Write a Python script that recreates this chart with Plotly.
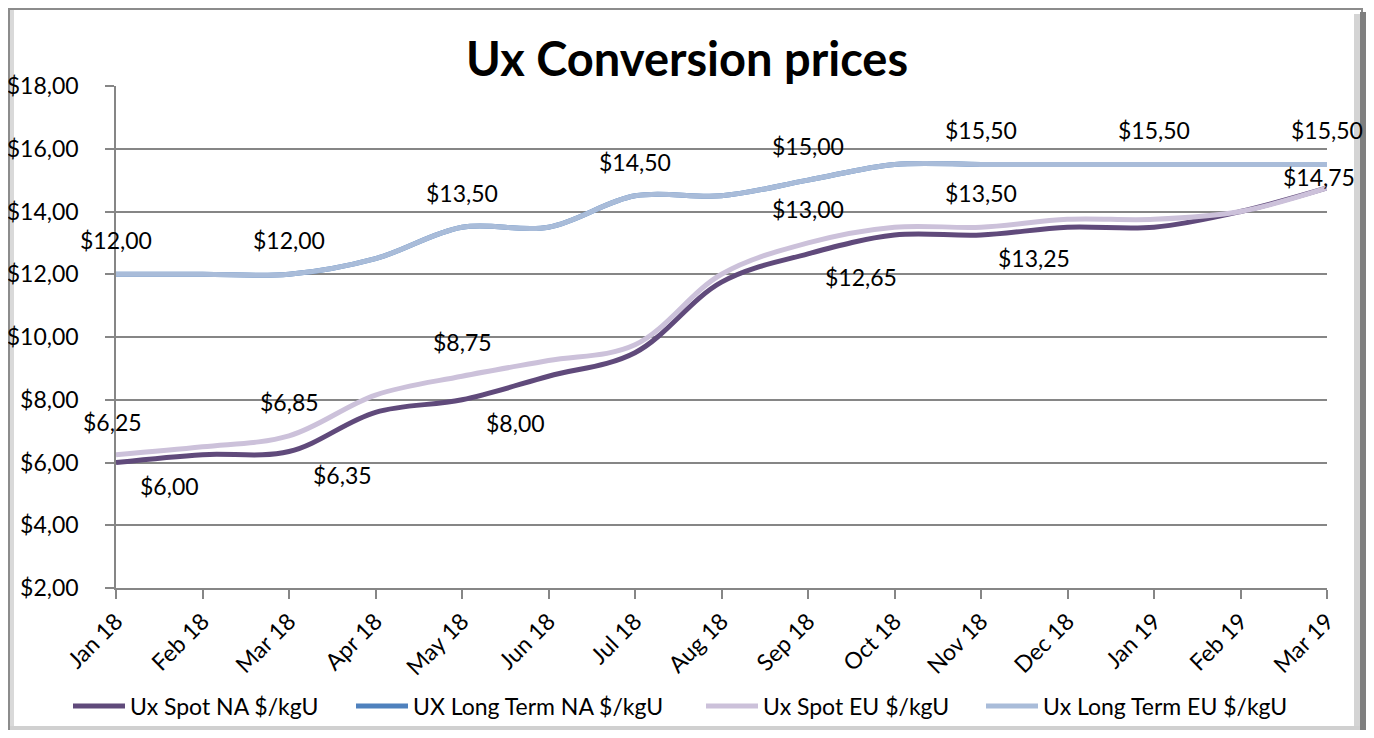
import plotly.graph_objects as go

months = ["Jan 18", "Feb 18", "Mar 18", "Apr 18", "May 18", "Jun 18", "Jul 18", "Aug 18",
          "Sep 18", "Oct 18", "Nov 18", "Dec 18", "Jan 19", "Feb 19", "Mar 19"]

spot_na = [6.00, 6.25, 6.35, 7.60, 8.00, 8.75, 9.50, 11.75, 12.65, 13.25, 13.25, 13.50, 13.50, 14.00, 14.75]
lt_na = [12.00, 12.00, 12.00, 12.50, 13.50, 13.50, 14.50, 14.50, 15.00, 15.50, 15.50, 15.50, 15.50, 15.50, 15.50]
spot_eu = [6.25, 6.50, 6.85, 8.15, 8.75, 9.25, 9.75, 12.00, 13.00, 13.50, 13.50, 13.75, 13.75, 14.00, 14.75]
lt_eu = [12.00, 12.00, 12.00, 12.50, 13.50, 13.50, 14.50, 14.50, 15.00, 15.50, 15.50, 15.50, 15.50, 15.50, 15.50]

series_names = ["Ux Spot NA $/kgU", "UX Long Term NA $/kgU", "Ux Spot EU $/kgU", "Ux Long Term EU $/kgU"]
y_tickvals = [2, 4, 6, 8, 10, 12, 14, 16, 18]
y_ticktext = ["$2,00", "$4,00", "$6,00", "$8,00", "$10,00", "$12,00", "$14,00", "$16,00", "$18,00"]

# indices of labelled points per series
na_label_idx = [0, 2, 4, 8, 10]
eu_label_idx = [0, 2, 4, 8, 10, 14]
lt_label_idx = [0, 2, 4, 6, 8, 10, 12, 14]

colors = ["#604A7B", "#4F81BD", "#CCC1DA", "#A9BCD9"]
FONT = "Lato, 'Open Sans', sans-serif"
FS = 23

def fmt(v):
    return ("$%.2f" % v).replace(".", ",")

# page body has an 8px margin; the figure is sized to fill the window inside it
OFF = 8
FW, FH = 1374 - 2 * OFF, 738 - 2 * OFF
L, R, T, B = 116, 1327, 86, 588          # plot area in window pixels
W, H = R - L, B - T
def px(xp):
    return (xp - L) / W
def py(yp):
    return (B - yp) / H

legend_ids = ["legend", "legend2", "legend3", "legend4"]
legend_starts = [68, 351, 701, 981]      # window pixel where each legend entry begins

fig = go.Figure()
for name, vals, col, lid in zip(series_names, [spot_na, lt_na, spot_eu, lt_eu], colors, legend_ids):
    fig.add_trace(go.Scatter(
        x=months, y=vals, name=name, mode="lines",
        line=dict(color=col, width=5, shape="spline", smoothing=1.0),
        hoverinfo="x+y+name", legend=lid,
    ))

annotations = []
for i in lt_label_idx:
    annotations.append(dict(x=months[i], y=lt_eu[i], text=fmt(lt_eu[i]), showarrow=False,
                            xref="x", yref="y", yshift=34, xshift=0))
for i in eu_label_idx:
    xs, ys = (-4, 33) if i == 0 else ((-8, 11) if i == 14 else (0, 34))
    annotations.append(dict(x=months[i], y=spot_eu[i], text=fmt(spot_eu[i]), showarrow=False,
                            xref="x", yref="y", yshift=ys, xshift=xs))
for i in na_label_idx:
    annotations.append(dict(x=months[i], y=spot_na[i], text=fmt(spot_na[i]), showarrow=False,
                            xref="x", yref="y", yshift=-23, xshift=53))
for a in annotations:
    a["font"] = dict(family=FONT, size=FS, color="#000000")

shapes = [
    dict(type="rect", xref="paper", yref="paper", x0=px(9), x1=px(1362), y0=py(729), y1=py(9),
         line=dict(color="#8C8C8C", width=2), fillcolor="rgba(0,0,0,0)", layer="below"),
    dict(type="rect", xref="paper", yref="paper", x0=px(10), x1=px(14), y0=py(728), y1=py(10),
         line=dict(width=0), fillcolor="#D9D9D9", layer="below"),
    dict(type="rect", xref="paper", yref="paper", x0=px(1354), x1=px(1360), y0=py(729), y1=py(14),
         line=dict(width=0), fillcolor="#D4D4D4", layer="below"),
    dict(type="rect", xref="paper", yref="paper", x0=px(1360), x1=px(1366), y0=py(730), y1=py(12),
         line=dict(width=0), fillcolor="#7F7F7F", layer="below"),
    dict(type="rect", xref="paper", yref="paper", x0=px(10), x1=px(1360), y0=py(730), y1=py(726),
         line=dict(width=0), fillcolor="#D0D0D0", layer="below"),
]

layout_legends = {}
for lid, xs in zip(legend_ids, legend_starts):
    layout_legends[lid] = dict(orientation="h", x=px(xs), xanchor="left",
                               y=-(706 - B) / H, yanchor="middle",
                               font=dict(family=FONT, size=FS), itemwidth=52,
                               bgcolor="rgba(0,0,0,0)")

fig.update_layout(
    width=FW, height=FH,
    margin=dict(l=L - OFF, r=1374 - OFF - R, t=T - OFF, b=738 - OFF - B, autoexpand=False),
    paper_bgcolor="white", plot_bgcolor="white",
    font=dict(family=FONT, size=FS, color="#000000"),
    title=dict(text="<b>Ux Conversion prices</b>", x=0.5, xref="container", xanchor="center",
               y=1 - (60 - OFF) / FH, yref="container", yanchor="middle",
               font=dict(family=FONT, size=47, color="#000000")),
    xaxis=dict(type="category", range=[0, len(months) - 1], showgrid=False, automargin=False,
               showline=True, linecolor="#868686", linewidth=1.5,
               ticks="outside", ticklen=9, tickcolor="#868686", tickwidth=1.5,
               tickangle=-45, tickfont=dict(family=FONT, size=FS), fixedrange=True),
    yaxis=dict(range=[2, 18], tickvals=y_tickvals, ticktext=y_ticktext, automargin=False,
               showgrid=True, gridcolor="#868686", gridwidth=1.5,
               showline=True, linecolor="#868686", linewidth=1.5,
               ticks="outside", ticklen=9, tickcolor="#868686", tickwidth=1.5,
               ticklabelstandoff=22,
               tickfont=dict(family=FONT, size=FS), zeroline=False, fixedrange=True),
    annotations=annotations,
    shapes=shapes,
    showlegend=True,
    **layout_legends,
)

fig.write_html("out.html")
